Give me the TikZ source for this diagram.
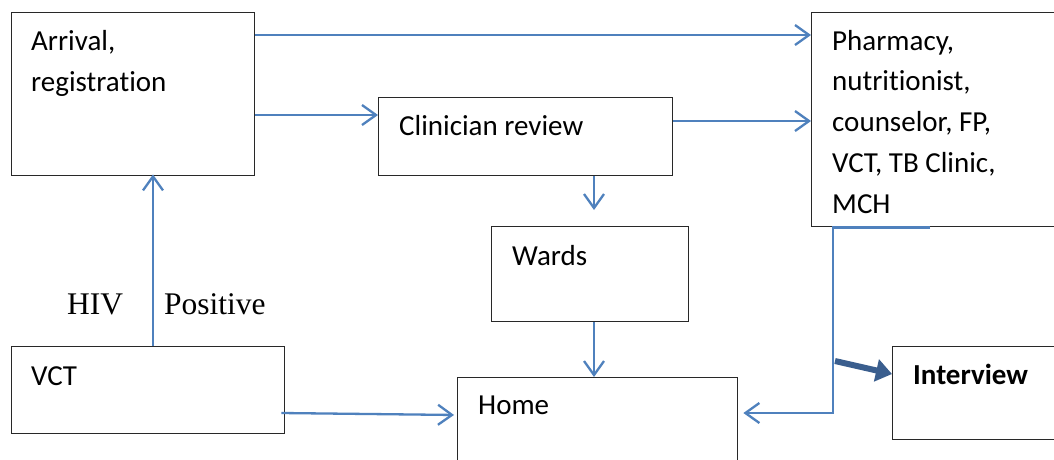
\documentclass[tikz,border=0pt]{standalone}
\usepackage{fontspec}
\setmainfont{Carlito}[Ligatures=NoCommon]
\newfontfamily\tnr{Liberation Serif}
\usetikzlibrary{arrows.meta}
\definecolor{lblue}{RGB}{79,129,189}
\definecolor{dblue}{RGB}{58,94,142}
\definecolor{bord}{RGB}{40,40,40}
\begin{document}
\begin{tikzpicture}[x=1pt,y=-1pt,
  box/.style={draw=bord,line width=1.4pt,inner sep=0pt,anchor=north west},
  txt/.style={inner sep=0pt,anchor=base west,align=left,font=\fontsize{29}{40.7}\selectfont},
  conn/.style={draw=lblue,line width=2.3pt,-{Straight Barb[length=14pt,width=20pt,line width=2.3pt]}},
  thick/.style={draw=dblue,line width=6pt,-{Triangle[length=16pt,width=22pt]}}]
\clip (0,0) rectangle (1054,459);
\fill[white] (0,0) rectangle (1054,459);
% boxes
\node[box,minimum width=243pt,minimum height=163pt] (arr) at (11,12) {};
\node[box,minimum width=294pt,minimum height=78pt] (cl) at (378,97) {};
\node[box,minimum width=260pt,minimum height=214pt] (ph) at (811,12) {};
\node[box,minimum width=197pt,minimum height=95pt] (wa) at (491,226) {};
\node[box,minimum width=273pt,minimum height=87pt] (vct) at (11,346) {};
\node[box,minimum width=280pt,minimum height=110pt] (ho) at (457,377) {};
\node[box,minimum width=180pt,minimum height=93pt] (iv) at (892,346) {};
% texts (base anchor = baseline of last line)
\node[txt] (arrT) at (31,91) {Arrival,\\registration};
\node[txt] (clT) at (399,135) {Clinician review};
\node[txt] (phT) at (832,213) {Pharmacy,\\nutritionist,\\counselor, FP,\\VCT, TB Clinic,\\MCH};
\node[txt] (waT) at (512,265) {Wards};
\node[txt] (vctT) at (31,385) {VCT};
\node[txt] (hoT) at (478,414) {Home};
\node[txt,font=\fontsize{29}{40.7}\selectfont\bfseries] (ivT) at (913,384) {Interview};
\node[txt,font=\fontsize{31.5}{38}\selectfont\tnr] (hiv) at (67,314) {HIV};
\node[txt,font=\fontsize{31.5}{38}\selectfont\tnr] (pos) at (164,314) {Positive};
% connectors
\draw[conn] (arr.east |- 0,35) -- (ph.west |- 0,35);
\draw[conn] (arr.east |- 0,115) -- (cl.west |- 0,115);
\draw[conn] (cl.east |- 0,121) -- (ph.west |- 0,121);
\coordinate (wtip) at (594,210);
\draw[conn] (cl.south -| wtip) -- (wtip);
\draw[conn] (wa.south -| wtip) -- (ho.north -| wtip);
\draw[conn,shorten >=-2pt] (vct.north -| 153,0) -- (arr.south -| 153,0);
\draw[conn,shorten >=3pt] ([xshift=-4pt]vct.east |- 0,413) -- (ho.west |- 0,415);
\draw[conn,shorten >=5pt] (ph.south -| 930,0) -- (ph.south -| 833,0) -- (833,413) -- (ho.east |- 0,413);
\draw[thick] (835,361) -- (iv.west |- 0,374);
\end{tikzpicture}
\end{document}
